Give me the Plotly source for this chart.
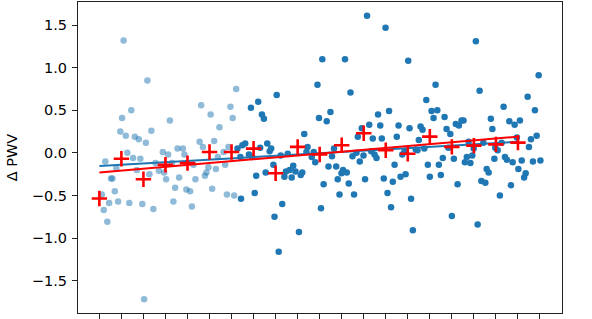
import plotly.graph_objects as go

# ---- data ----
light_x = [1.10, 2.18, 1.45, 1.03, 0.95, 1.20, 1.61, 1.79, 2.11, 2.36, 1.27, 1.53, 1.86, 0.27, 0.77,
           1.70, 2.55, 2.70, 2.27, 0.53, 0.59, 0.70, 0.11, 0.20, 0.36, 0.44, 0.85, 1.36, 1.95, 2.45, 2.03,
           3.20, 4.62, 5.05, 5.95, 6.05, 6.21, 5.45, 5.21, 4.55, 4.70, 5.86, 3.55, 3.79, 2.88, 3.12, 3.86,
           5.64, 5.38, 5.71, 4.95, 5.29, 4.86, 4.79, 4.27, 3.30, 2.94, 3.03, 3.62, 4.36, 3.44, 3.95, 4.12,
           3.36, 4.20, 5.12, 5.79, 6.12]
light_y = [1.32, 0.85, 0.50, 0.41, 0.25, 0.20, 0.19, 0.16, 0.12, 0.26, 0.00, -0.06, -0.07, -0.10, -0.18,
           -0.20, -0.12, -0.21, -0.25, -0.30, -0.30, -0.45, -0.49, -0.67, -0.81, -0.59, -0.57, -0.59, -0.60, -0.66, -1.72,
           0.38, 0.56, 0.45, 0.54, 0.41, 0.75, 0.30, 0.14, 0.13, 0.07, 0.07, 0.05, 0.05, 0.01, -0.02, -0.02,
           0.01, -0.05, -0.14, -0.17, -0.19, -0.23, -0.27, -0.14, -0.12, -0.23, -0.31, -0.29, -0.31, -0.41, -0.43, -0.45,
           -0.57, -0.63, -0.42, -0.49, -0.50]

dark_x = [6.27, 6.40, 6.43,
          6.88, 7.21, 8.05, 7.38, 7.47, 10.12, 9.90, 9.97, 9.30, 6.49, 6.62, 6.79, 6.94, 7.30, 7.62, 7.73,
          7.80, 7.90, 8.23, 8.55, 7.12, 7.55, 8.40, 8.47, 8.64, 8.80, 8.90, 8.73, 9.14, 9.21, 9.45, 9.40,
          9.64, 9.73, 9.80, 10.18, 7.05, 8.30, 7.95, 10.06, 9.06, 8.14,
          12.15, 12.99, 11.15, 11.40, 10.49, 10.32, 13.15, 12.65, 11.91, 12.25, 12.75, 13.58, 11.73, 12.41,
          12.82, 13.50, 10.65, 10.56, 11.49, 11.67, 11.99, 11.82, 12.34, 12.49, 12.58, 13.75, 13.85, 10.40,
          10.75, 11.06, 10.99, 11.23, 10.82, 11.32, 12.06, 12.91, 13.40, 13.32, 13.67, 13.90, 10.90, 11.56,
          13.08, 13.24,
          17.09, 14.02, 15.26, 17.26, 14.84, 15.08, 15.34, 15.17, 15.67, 14.08, 14.58, 14.67, 15.76, 15.93,
          16.18, 16.32, 16.44, 16.53, 14.50, 14.36, 14.44, 14.75, 15.84, 16.09, 16.76, 16.68, 16.93, 16.99,
          17.43, 16.59, 16.84, 15.59, 15.41, 14.91, 15.00, 15.50, 16.26, 17.58, 17.67, 17.34, 17.52, 14.15,
          14.23, 16.00, 17.17,
          19.94, 19.44, 19.77, 18.35, 17.77, 18.61, 18.85, 19.09, 17.84, 19.85, 19.59, 18.95, 18.26, 17.97,
          18.08, 19.50, 17.93, 18.41, 18.50, 18.76, 19.17, 19.68, 20.02, 19.02, 19.35, 19.28, 18.68, 18.18]
dark_y = [0.05, -0.05, -0.54,
          0.53, 0.60, 0.68, 0.45, 0.40, 1.10, 0.80, 0.41, 0.22, 0.09, 0.11, -0.02, -0.05, 0.06, 0.11, 0.02,
          0.05, -0.14, -0.03, -0.01, -0.27, -0.23, -0.28, -0.22, -0.20, -0.15, -0.22, -0.29, -0.26, -0.23, 0.07, 0.01,
          -0.05, 0.01, -0.11, -0.37, -0.47, -0.60, -0.75, -0.65, -0.93, -1.16,
          1.61, 1.47, 1.10, 0.71, 0.48, 0.37, 0.49, 0.45, 0.29, 0.33, 0.32, 0.32, 0.19, 0.17,
          0.17, 0.19, 0.05, -0.04, -0.04, 0.00, -0.03, -0.10, 0.02, -0.02, -0.06, -0.02, 0.02, -0.16,
          -0.16, -0.20, -0.24, -0.23, -0.31, -0.36, -0.31, -0.30, -0.14, -0.34, -0.28, -0.25, -0.49, -0.49,
          -0.47, -0.64,
          1.31, 1.08, 0.80, 0.73, 0.62, 0.49, 0.50, 0.41, 0.42, 0.29, 0.31, 0.27, 0.28, 0.22,
          0.34, 0.32, 0.38, 0.38, 0.15, 0.04, 0.03, 0.05, 0.06, -0.07, 0.13, -0.05, -0.03, 0.05,
          0.12, -0.11, -0.12, -0.06, -0.14, -0.14, -0.28, -0.26, -0.37, -0.19, -0.23, -0.33, -0.35, -0.54,
          -0.91, -0.74, -0.84,
          0.91, 0.66, 0.50, 0.54, 0.40, 0.37, 0.33, 0.38, 0.28, 0.20, 0.16, 0.18, 0.12, 0.06,
          0.03, 0.07, -0.07, -0.05, -0.08, -0.11, -0.09, -0.10, -0.09, -0.19, -0.24, -0.29, -0.38, -0.50]

bin_x = list(range(20))
bin_mean = [-0.535, -0.07, -0.31, -0.14, -0.12, 0.01, 0.01, 0.05, -0.24, 0.07,
            -0.02, 0.09, 0.23, 0.03, -0.01, 0.19, 0.07, 0.085, 0.10, 0.12]

fit_x = [0, 19]
fit_blue = [-0.155, 0.13]
fit_red = [-0.23, 0.19]

x_ticks = list(range(21))
y_ticks = [-1.5, -1.0, -0.5, 0.0, 0.5, 1.0, 1.5]
y_tick_text = ["\u22121.5", "\u22121.0", "\u22120.5", "0.0", "0.5", "1.0", "1.5"]

BLUE = "#1f77b4"

fig = go.Figure()
fig.add_trace(go.Scatter(x=light_x, y=light_y, mode="markers",
                         marker=dict(size=6.5, color=BLUE, opacity=0.5, line=dict(width=0)),
                         showlegend=False, hoverinfo="skip"))
fig.add_trace(go.Scatter(x=dark_x, y=dark_y, mode="markers",
                         marker=dict(size=6.5, color=BLUE, line=dict(width=0)),
                         showlegend=False, hoverinfo="skip"))
fig.add_trace(go.Scatter(x=fit_x, y=fit_blue, mode="lines",
                         line=dict(color=BLUE, width=2), showlegend=False))
fig.add_trace(go.Scatter(x=fit_x, y=fit_red, mode="lines",
                         line=dict(color="red", width=2), showlegend=False))
fig.add_trace(go.Scatter(x=bin_x, y=bin_mean, mode="markers",
                         marker=dict(symbol="cross-thin", size=11, color="red",
                                     line=dict(color="red", width=2.6)),
                         showlegend=False))

axis_common = dict(showline=True, linecolor="#222", linewidth=1.2, mirror=True,
                   showgrid=False, zeroline=False, ticks="outside", tickcolor="#222",
                   ticklen=5, tickwidth=1)

fig.update_layout(
    width=592, height=319,
    margin=dict(l=78, r=30, t=1, b=4),
    paper_bgcolor="white", plot_bgcolor="white",
    font=dict(family="DejaVu Sans", size=14.5, color="black"),
    xaxis=dict(range=[-0.97, 21.0], tickvals=x_ticks, showticklabels=False, **axis_common),
    yaxis=dict(range=[-1.88, 1.771], tickvals=y_ticks, ticktext=y_tick_text,
               ticklabelstandoff=2, automargin=False,
               title=dict(text="\u0394 PWV", standoff=10, font=dict(size=14.5)),
               **axis_common),
)

fig.write_html("out.html", config={"displayModeBar": False},
               post_script="document.body.style.margin='0';document.body.style.overflow='hidden';")
